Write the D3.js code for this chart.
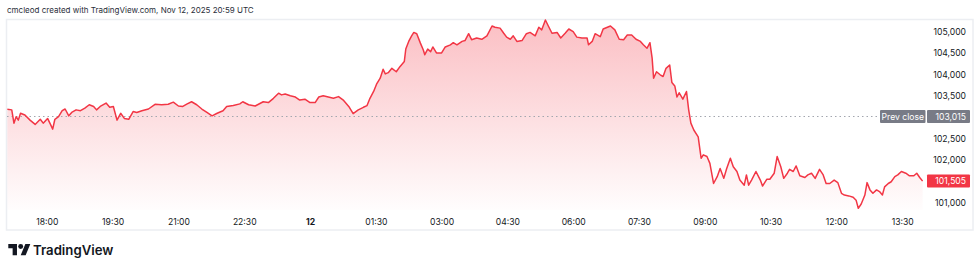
<!DOCTYPE html>
<html>
<head>
<meta charset="utf-8">
<script src="https://cdn.jsdelivr.net/npm/d3@7"></script>
<style>
  html, body { margin: 0; padding: 0; background: #fff; }
  svg { display: block; font-family: Inter, "Noto Sans", sans-serif; }
</style>
</head>
<body>
<svg id="chart" width="980" height="270"></svg>
<script>
const title = 'cmcleod created with TradingView.com, Nov 12, 2025 20:59 UTC'
const brand = 'TradingView'

const times = [
	'17:06','17:12','17:15','17:18','17:21','17:24','17:30','17:37','17:44','17:51','17:55',
	'18:01','18:05','18:08','18:11','18:16','18:21','18:25','18:30','18:34','18:40','18:46','18:52','18:58',
	'19:04','19:08','19:13','19:21','19:26','19:31','19:36','19:41','19:46','19:52','19:58',
	'20:03','20:10','20:19','20:28','20:37','20:46','20:53',
	'21:00','21:06','21:12','21:18','21:25','21:32','21:39','21:46','21:53',
	'22:01','22:06','22:15','22:24','22:28','22:36','22:45','22:56',
	'23:03','23:10','23:17','23:21','23:26','23:33','23:40','23:46','23:53',
	'00:00','00:07','00:12','00:18','00:25','00:32','00:39','00:46','00:53','00:59',
	'01:06','01:13','01:18','01:22','01:27','01:31','01:36','01:40','01:43','01:47','01:52','01:58',
	'02:03','02:09','02:11','02:15','02:19','02:22','02:26','02:31','02:35','02:37','02:41','02:45','02:48','02:53',
	'03:00','03:05','03:12','03:16','03:21','03:28','03:32','03:37','03:41','03:48','03:55',
	'04:02','04:09','04:13','04:20','04:25','04:29','04:34','04:38','04:43','04:50','04:56',
	'05:01','05:08','05:13','05:17','05:22','05:26','05:31','05:38','05:43','05:49','05:54',
	'06:00','06:05','06:12','06:19','06:21','06:26','06:30','06:37','06:41','06:51','06:57',
	'07:03','07:09','07:14','07:20','07:26','07:32','07:36','07:41','07:45','07:48','07:50','07:54','07:59',
	'08:03','08:07','08:12','08:15','08:19','08:22','08:25','08:30','08:35','08:38','08:41','08:45','08:51','08:55','08:58',
	'09:03','09:07','09:12','09:17','09:21','09:26','09:30','09:35','09:39','09:44','09:48','09:54','09:57',
	'10:00','10:04','10:10','10:16','10:19','10:25','10:29','10:35','10:39','10:44','10:48','10:53','10:56',
	'11:01','11:05','11:10','11:17','11:21','11:26','11:31','11:37','11:42','11:46','11:51','11:57',
	'12:02','12:07','12:11','12:17','12:23','12:27','12:30','12:34','12:39','12:42','12:46','12:50','12:55','12:59',
	'13:03','13:06','13:11','13:15','13:20','13:24','13:29','13:35','13:40','13:46','13:50','13:54','13:58'
]

const prices = [
	103185,103170,102860,103010,102930,103090,103050,102930,102830,102950,102860,
	102970,102830,102720,102950,103010,103150,103190,103030,103110,103170,103150,103210,103290,
	103250,103170,103250,103330,103230,103250,102930,103090,102970,102950,103130,
	103110,103150,103190,103300,103290,103300,103350,
	103260,103250,103310,103360,103290,103190,103110,103030,103090,
	103150,103250,103270,103310,103360,103290,103260,103360,
	103340,103440,103560,103520,103540,103500,103470,103400,103420,
	103340,103340,103470,103500,103470,103440,103480,103390,103250,103080,
	103170,103230,103270,103440,103600,103770,103910,104120,104010,104040,104140,104060,
	104180,104300,104590,104770,104900,104980,104950,104730,104570,104460,104590,104530,104640,104500,
	104500,104640,104690,104740,104690,104770,104790,104950,104810,104850,104820,
	104900,105130,105100,105080,104960,104870,104820,104900,104770,104790,104950,
	104980,104900,105100,105040,105270,105130,104960,104980,104850,104960,105060,
	105000,104870,104850,104850,104690,104770,104950,104880,105060,105130,105040,
	104820,104810,104920,104920,104820,104770,104690,104610,104740,104380,103910,104060,103990,
	103950,104140,104220,103810,103730,103470,103570,103420,103600,103170,102860,102700,102540,102040,102120,
	102080,101920,101450,101610,101800,101570,101800,102040,101840,101730,101530,101410,101650,
	101410,101530,101730,101530,101390,101550,101550,101690,102080,101840,101570,101690,101780,
	101730,101860,101630,101590,101650,101690,101570,101780,101650,101450,101450,101530,
	101470,101220,101180,101160,101130,101060,100870,100970,101180,101470,101300,101220,101300,101260,
	101180,101370,101450,101490,101610,101650,101730,101690,101630,101630,101690,101590,101505
]

const prevClose = 103015
const yTicks = [101000, 101500, 102000, 102500, 103000, 103500, 104000, 104500, 105000]
const xTicks = ['18:00','19:30','21:00','22:30','00:00','01:30','03:00','04:30','06:00','07:30','09:00','10:30','12:00','13:30']

const red = '#f23645'
const grey = '#787b86'
const ink = '#131722'

// turn HH:MM strings into dates, rolling over to the next day at midnight
function toDates (list) {
	let day = new Date(2025, 10, 11)
	let last = -1
	return list.map((s) => {
		const [h, m] = s.split(':').map(Number)
		const mins = h * 60 + m
		if (mins < last) day = d3.timeDay.offset(day, 1)
		last = mins
		return new Date(day.getFullYear(), day.getMonth(), day.getDate(), h, m)
	})
}

const dates = toDates(times)
const data = dates.map((d, i) => ({ date: d, price: prices[i] }))
const tickDates = toDates(xTicks)

const pane = { left: 7, right: 927, top: 20, bottom: 210 }

const x = d3.scaleTime()
	.domain([d3.timeSecond.offset(dates[0], -30), d3.timeMinute.offset(dates[dates.length - 1], 6)])
	.range([pane.left, pane.right])

const y = d3.scaleLinear()
	.domain(d3.extent(prices))
	.range([pane.bottom - 1.7, pane.top])

const svg = d3.select('#chart')

svg.append('text')
	.attr('x', 7)
	.attr('y', 12.5)
	.attr('font-size', 8)
	.attr('fill', '#2a2e39')
	.text(title)

// chart frame
svg.append('rect')
	.attr('x', 6.5)
	.attr('y', 19.5)
	.attr('width', 966.5)
	.attr('height', 210.5)
	.attr('fill', '#fff')
	.attr('stroke', '#eceef2')
	.attr('stroke-width', 1.5)

const defs = svg.append('defs')
const grad = defs.append('linearGradient')
	.attr('id', 'fill')
	.attr('gradientUnits', 'userSpaceOnUse')
	.attr('x1', 0).attr('x2', 0)
	.attr('y1', pane.top).attr('y2', pane.bottom)
grad.append('stop').attr('offset', 0).attr('stop-color', red).attr('stop-opacity', 0.32)
grad.append('stop').attr('offset', 1).attr('stop-color', red).attr('stop-opacity', 0.01)

svg.append('path')
	.datum(data)
	.attr('fill', 'url(#fill)')
	.attr('d', d3.area()
		.x((d) => x(d.date))
		.y0(pane.bottom)
		.y1((d) => y(d.price)))

// previous close
svg.append('line')
	.attr('x1', pane.left)
	.attr('x2', 878)
	.attr('y1', y(prevClose))
	.attr('y2', y(prevClose))
	.attr('stroke', '#a3a6af')
	.attr('stroke-width', 1)
	.attr('stroke-dasharray', '1.5,3')

svg.append('path')
	.datum(data)
	.attr('fill', 'none')
	.attr('stroke', red)
	.attr('stroke-width', 1.5)
	.attr('stroke-linejoin', 'round')
	.attr('d', d3.line()
		.x((d) => x(d.date))
		.y((d) => y(d.price)))

// x axis
const xAxis = svg.append('g')
	.attr('transform', `translate(0,${pane.bottom})`)
	.call(d3.axisBottom(x)
		.tickValues(tickDates)
		.tickSize(0)
		.tickPadding(9)
		.tickFormat((d) => d.getHours() === 0 && d.getMinutes() === 0 ? '12' : d3.timeFormat('%H:%M')(d)))
xAxis.select('.domain').remove()
xAxis.selectAll('text')
	.attr('font-family', 'Inter, sans-serif')
	.attr('font-size', 8.6)
	.attr('fill', ink)
	.attr('font-weight', (d) => d.getHours() === 0 ? 700 : 400)

// y axis, skipping ticks hidden under the price labels
const last = prices[prices.length - 1]
const visible = yTicks.filter((t) =>
	Math.abs(y(t) - y(prevClose)) > 12 && Math.abs(y(t) - y(last)) > 12)

const yAxis = svg.append('g')
	.attr('transform', `translate(${pane.right},0)`)
	.call(d3.axisRight(y)
		.tickValues(visible)
		.tickSize(0)
		.tickFormat(d3.format(',')))
yAxis.select('.domain').remove()
yAxis.selectAll('text')
	.attr('x', 39)
	.attr('text-anchor', 'end')
	.attr('font-family', 'Inter, sans-serif')
	.attr('font-size', 8.6)
	.attr('fill', ink)

// price labels on the scale
const labels = [
	{ value: prevClose, color: grey },
	{ value: last, color: red }
]
const tags = svg.append('g')
	.selectAll('g')
	.data(labels)
	.enter()
		.append('g')
		.attr('transform', (d) => `translate(${pane.right},${y(d.value)})`)
tags.append('rect')
	.attr('x', 0)
	.attr('y', -6.5)
	.attr('width', 43)
	.attr('height', 13)
	.attr('rx', 1)
	.attr('fill', (d) => d.color)
tags.append('text')
	.attr('x', 39)
	.attr('dy', '0.35em')
	.attr('text-anchor', 'end')
	.attr('font-size', 8.6)
	.attr('fill', '#fff')
	.text((d) => d3.format(',')(d.value))

const prevTag = svg.append('g')
	.attr('transform', `translate(880,${y(prevClose)})`)
prevTag.append('rect')
	.attr('x', 0)
	.attr('y', -6.5)
	.attr('width', 45.5)
	.attr('height', 13)
	.attr('rx', 1)
	.attr('fill', grey)
prevTag.append('text')
	.attr('x', 22.75)
	.attr('dy', '0.35em')
	.attr('text-anchor', 'middle')
	.attr('font-size', 8.6)
	.attr('fill', '#fff')
	.text('Prev close')

// logo
svg.append('path')
	.attr('transform', 'translate(8.3,241.5) scale(0.62)')
	.attr('fill', ink)
	.attr('d', 'M14 22H7V11H0V4h14v18zM28 22h-8l7.5-18h8L28 22z')
svg.append('circle')
	.attr('cx', 8.3 + 20 * 0.62)
	.attr('cy', 241.5 + 8 * 0.62)
	.attr('r', 4 * 0.62)
	.attr('fill', ink)
svg.append('text')
	.attr('x', 33)
	.attr('y', 254.5)
	.attr('font-size', 13.2)
	.attr('font-weight', 600)
	.attr('fill', ink)
	.text(brand)
</script>
</body>
</html>
